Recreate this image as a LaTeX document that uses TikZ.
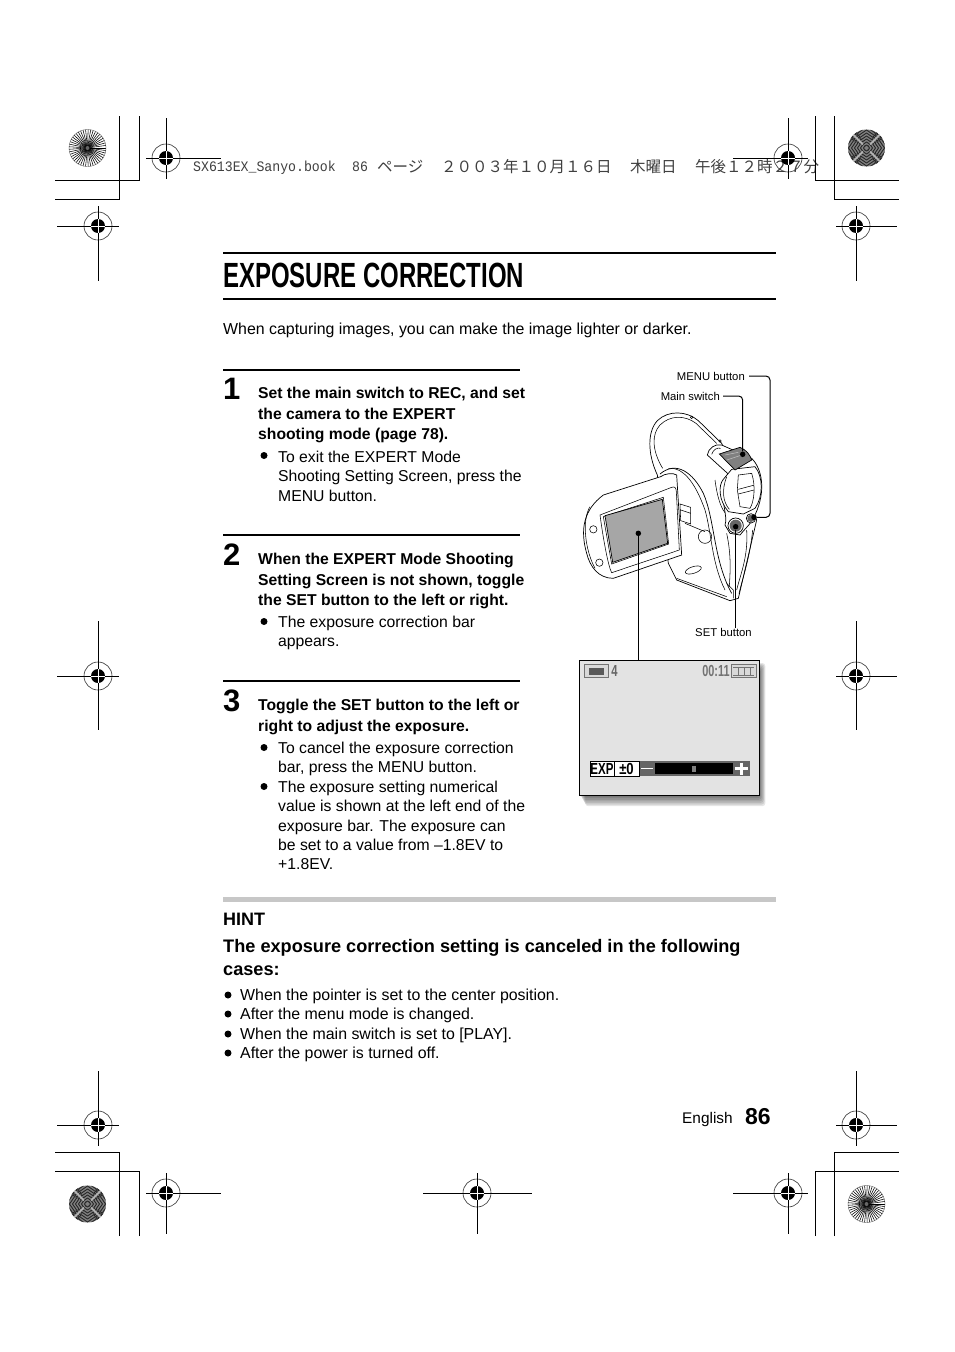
\documentclass[tikz,border=0pt]{standalone}
\usepackage{fontspec}
\setmainfont{Liberation Sans}
\setmonofont{Liberation Mono}
\newfontfamily\cjk{Noto Sans CJK JP}
\usetikzlibrary{positioning}
\tikzset{
	pagerule/.style={line width=2pt},
	cropline/.style={line width=1pt},
	bodytext/.style={inner sep=0pt,anchor=north west,align=left,font=\fontsize{15.9}{19.3}\selectfont},
	notetext/.style={inner sep=0pt,anchor=north west,align=left,font=\fontsize{15.75}{19.3}\selectfont},
	steptext/.style={inner sep=0pt,anchor=north west,align=left,font=\bfseries\fontsize{15.7}{20.5}\selectfont},
	stepnum/.style={inner sep=0pt,anchor=north west,font=\bfseries\fontsize{31}{31}\selectfont},
	bullet/.style={circle,fill=black,inner sep=0pt,minimum size=7pt},
	smalllabel/.style={inner sep=0pt,font=\fontsize{11.3}{12}\selectfont},
	headtext/.style={inner sep=0pt,anchor=base west,text=black!75},
	leader/.style={line width=1pt,rounded corners=4pt},
	pointdot/.style={circle,fill=black,inner sep=0pt,minimum size=5.5pt},
	camline/.style={line width=.7pt,fill=white},
	camthin/.style={line width=.55pt},
	camdark/.style={line width=.7pt,fill=black!50},
	monitorfont/.style={inner sep=0pt,font=\bfseries\fontsize{16}{16}\selectfont},
}
\newcommand{\narrowtext}[2]{\scalebox{#1}[1]{#2}}
\newcommand{\starmark}[2]{
	\begin{scope}[shift={(#1,#2)}]
		\foreach \a in {0,8,...,352}
			\draw[line width=.55pt] (0,0) -- (\a:18.5);
		\fill[black!60] (0,0) circle (2);
		\draw[line width=.4pt,black!60] (0,0) circle (18.5);
	\end{scope}
}
\newcommand{\moiremark}[2]{
	\begin{scope}[shift={(#1,#2)}]
		\fill[black!50] (0,0) circle (18.5);
		\clip (0,0) circle (18.5);
		\foreach \r in {0,90,180,270}
			\foreach \d in {3,6,...,27}
				\draw[rotate=\r,line width=.9pt,black!85] (\d,0) -- (\d*.45,\d*.8) (\d,0) -- (\d*.45,-\d*.8);
		\foreach \a in {45,135,225,315}
			\draw[black!30,line width=2pt] (\a:5) -- (\a:18.5);
	\end{scope}
}
\begin{document}
\begin{tikzpicture}[x=1pt,y=-1pt]
	\useasboundingbox[fill=white] (0,0) rectangle (954,1352);
	%
	\node[headtext,font=\ttfamily\fontsize{14.5}{15}\selectfont] (bookname) at (193,171.5) {\narrowtext{.91}{SX613EX\_Sanyo.book}};
	\node[headtext,font=\ttfamily\fontsize{14.5}{15}\selectfont] (bookpage) at (352,171.5) {\narrowtext{.91}{86}};
	\node[headtext,font=\cjk\fontsize{15.5}{16}\selectfont] (headpage) at (377,172) {ページ};
	\node[headtext,font=\cjk\fontsize{15.5}{16}\selectfont] (headdate) at (441,172) {２００３年１０月１６日};
	\node[headtext,font=\cjk\fontsize{15.5}{16}\selectfont] (headday) at (630,172) {木曜日};
	\node[headtext,font=\cjk\fontsize{15.5}{16}\selectfont] (headtime) at (695,172) {午後１２時２７分};
	%
	\draw[cropline] (119,116) -- (119,199) -- (55,199) (139,116) -- (139,180) -- (55,180);
	\draw[cropline] (815,116) -- (815,180) -- (899,180) (834,116) -- (834,199) -- (899,199);
	\draw[cropline] (119,1236) -- (119,1152) -- (55,1152) (139,1236) -- (139,1171) -- (55,1171);
	\draw[cropline] (815,1236) -- (815,1171) -- (899,1171) (834,1236) -- (834,1152) -- (899,1152);
	\starmark{87.5}{148}
	\moiremark{866.5}{148}
	\moiremark{87.5}{1204}
	\starmark{866.5}{1204}
	\foreach \mx/\my/\xa/\xb/\ya/\yb in {166/158/146/221/118/179,788/158/733/808/118/179,98/226/57/119/206/281,856/226/836/897/206/281,98/676/57/119/621/730,856/676/836/897/621/730,98/1125/57/119/1071/1146,856/1125/836/897/1071/1146,166/1193/146/221/1173/1234,477/1193/423/532/1173/1234,788/1193/733/808/1173/1234}{
		\draw[line width=.6pt,black!80] (\mx,\my) circle (14);
		\fill (\mx,\my) circle (7);
		\draw[cropline] (\xa,\my) -- (\xb,\my) (\mx,\ya) -- (\mx,\yb);
		\draw[white,line width=.8pt] (\mx-7,\my) -- (\mx+7,\my) (\mx,\my-7) -- (\mx,\my+7);
	}
	%
	\draw[pagerule] (223,253) -- (776,253) (223,299) -- (776,299);
	\node[inner sep=0pt,anchor=west,font=\bfseries\fontsize{35}{35}\selectfont] (title) at (223,275) {\narrowtext{.685}{EXPOSURE CORRECTION}};
	\node[bodytext] (intro) at (223,323) {When capturing images, you can make the image lighter or darker.};
	%
	\draw[pagerule] (223,370) -- (520,370) (223,535) -- (520,535) (223,681) -- (520,681);
	\node[stepnum] (num1) at (223,378) {1};
	\node[stepnum] (num2) at (223,544) {2};
	\node[stepnum] (num3) at (223,690) {3};
	\node[steptext] (step1) at (258,387) {Set the main switch to REC, and set\\the camera to the EXPERT\\shooting mode (page 78).};
	\node[notetext] (note1) at (278,451) {To exit the EXPERT Mode\\Shooting Setting Screen, press the\\MENU button.};
	\node[steptext] (step2) at (258,553) {When the EXPERT Mode Shooting\\Setting Screen is not shown, toggle\\the SET button to the left or right.};
	\node[notetext] (note2) at (278,616) {The exposure correction bar\\appears.};
	\node[steptext] (step3) at (258,699) {Toggle the SET button to the left or\\right to adjust the exposure.};
	\node[notetext] (note3) at (278,742) {To cancel the exposure correction\\bar, press the MENU button.};
	\node[notetext] (note4) at (278,781) {The exposure setting numerical\\value is shown at the left end of the\\exposure bar. The exposure can\\be set to a value from –1.8EV to\\+1.8EV.};
	\foreach \bx/\by [count=\i] in {264/455.5,264/621.5,264/747.5,264/786.5,228/995,228/1014,228/1034,228/1053}
		\node[bullet] (bullet\i) at (\bx,\by) {};
	%
	\fill[black!22] (223,897) rectangle (776,902);
	\node[inner sep=0pt,anchor=north west,font=\bfseries\fontsize{18}{18}\selectfont] (hint) at (223,913) {HINT};
	\node[inner sep=0pt,anchor=north west,align=left,font=\bfseries\fontsize{18.15}{23}\selectfont] (hinthead) at (223,939) {The exposure correction setting is canceled in the following\\cases:};
	\node[bodytext] (hint1) at (240,989) {When the pointer is set to the center position.};
	\node[bodytext] (hint2) at (240,1008) {After the menu mode is changed.};
	\node[bodytext] (hint3) at (240,1028) {When the main switch is set to [PLAY].};
	\node[bodytext] (hint4) at (240,1047) {After the power is turned off.};
	\node[inner sep=0pt,anchor=north west,font=\fontsize{15.4}{16}\selectfont] (lang) at (682,1112) {English};
	\node[inner sep=0pt,anchor=north west,font=\bfseries\fontsize{23}{23}\selectfont] (pagenum) at (745,1108) {86};
	%
	\begin{scope}[shift={(570,360)},x=1/3pt,y=-1/3pt]
		\draw[camline] (262,345) .. controls (232,280) and (232,215) .. (262,182) .. controls (295,150) and (350,152) .. (385,182) -- (455,250) -- (560,480) -- (505,715) -- (480,722) -- (320,660) -- (295,610) -- cycle;
		\draw[camthin] (278,325) .. controls (245,270) and (245,222) .. (270,195) .. controls (300,165) and (345,165) .. (378,190) -- (440,250);
		\draw[camthin] (365,172) circle (4) (450,243) circle (4);
		\draw[camline] (270,342) .. controls (320,300) and (370,340) .. (400,400) .. controls (435,480) and (430,600) .. (485,700);
		\draw[camthin] (295,325) .. controls (345,320) and (380,380) .. (405,450) .. controls (425,520) and (425,610) .. (465,690);
		\draw[camthin] (470,670) -- (490,690) -- (490,715) (320,655) -- (470,710);
		\draw[camthin] (530,510) .. controls (535,590) and (512,640) .. (500,690) (548,510) .. controls (540,590) and (522,640) .. (507,700) (470,520) .. controls (485,590) and (480,640) .. (478,680);
		\draw[camthin,rotate around={18:(370,630)}] (370,630) ellipse (25 and 10);
		\draw[camthin] (405,530) circle (20);
		\draw[camthin,fill=white] (330,432) -- (362,442) -- (362,492) -- (332,482) -- cycle (332,450) -- (362,460);
		\draw[camthin] (345,490) -- (405,515);
		\draw[camline] (272,350) .. controls (285,340) and (310,338) .. (320,345) -- (335,585) -- (130,655) .. controls (85,655) and (60,620) .. (50,580) .. controls (30,510) and (40,450) .. (100,405) -- cycle;
		\draw[camthin] (90,465) -- (305,382) .. controls (316,378) and (318,385) .. (319,395) -- (328,570) -- (125,638) .. controls (115,620) and (100,540) .. (90,465) -- cycle;
		\draw[camthin] (60,440) .. controls (35,480) and (45,570) .. (75,625);
		\draw[camthin] (100,470) -- (280,412) -- (296,552) -- (125,612) -- cycle;
		\draw[camline,fill=black!35] (105,467) -- (277,418) -- (293,550) -- (128,607) -- cycle;
		\draw[camthin] (70,508) circle (11) (88,608) circle (11);
		\draw[camline] (412,285) .. controls (415,265) and (435,250) .. (455,255) -- (545,295) .. controls (575,325) and (590,390) .. (555,465) .. controls (545,490) and (530,500) .. (510,525) -- (480,520) -- (465,495) .. controls (475,470) and (450,420) .. (462,370) -- (478,345) -- cycle;
		\draw[camthin] (425,283) .. controls (430,268) and (442,262) .. (452,265) (435,360) .. controls (440,400) and (450,440) .. (465,458);
		\draw[camline] (485,328) -- (555,320) .. controls (580,350) and (580,410) .. (555,445) -- (520,462) -- (475,455) .. controls (445,420) and (445,375) .. (460,358) -- cycle;
		\draw[camthin] (470,350) .. controls (455,390) and (458,425) .. (478,448);
		\draw[camthin] (505,345) -- (545,340) .. controls (558,380) and (552,425) .. (540,445) -- (510,440) -- (502,390) -- cycle (505,388) -- (550,376) (505,402) -- (552,390);
		\draw[camdark] (448,282) -- (510,262) .. controls (530,270) and (540,285) .. (545,300) -- (495,330) -- cycle;
		\draw[camthin,black!25] (465,285) -- (505,277) (470,300) -- (515,285);
		\draw[camline] (497,497) circle (23);
		\fill[black!60] (497,497) circle (18);
		\draw[camline] (543,475) circle (14);
		\fill[black!60] (543,475) circle (11);
		\node[pointdot] (maindot) at (518,283) {};
		\node[pointdot] (menudot) at (552,472) {};
		\node[pointdot] (setdot) at (497,500) {};
		\node[pointdot] (lcddot) at (205,520) {};
		\coordinate (menubend) at (600,472);
	\end{scope}
	\node[smalllabel,anchor=east] (menulabel) at (745,376) {MENU button};
	\node[smalllabel,anchor=east] (mainlabel) at (720,396) {Main switch};
	\node[smalllabel,anchor=center] (setlabel) at (723.5,632) {SET button};
	\draw[leader] (menulabel.east) ++(4,0) -| (menubend) -- (menudot);
	\draw[leader] (mainlabel.east) ++(3,0) -| (maindot);
	\draw[leader] (setdot) -- (setdot |- setlabel.north);
	%
	\foreach \i in {7,6,...,1}
		\fill[black,opacity=.1,rounded corners=3pt] (579+\i*.9,670-\i) rectangle (759+\i*.9,795+\i*1.6);
	\node[draw=black,line width=1pt,fill=black!11,inner sep=0pt,minimum width=180pt,minimum height=135pt] (monitor) at (669,727.5) {};
	\draw[leader] (lcddot) -- (lcddot |- monitor.north);
	\draw[black!55,line width=.8pt,fill=black!15] (584.5,664.5) rectangle (608.5,677.5);
	\fill[black!65] (589,667.5) rectangle (604,675);
	\node[monitorfont,text=black!60] (framecount) at (614.5,671) {\narrowtext{.7}{4}};
	\node[monitorfont,text=black!55] (timeleft) at (716,671) {\narrowtext{.68}{00:11}};
	\draw[black!55,line width=.8pt,fill=black!15] (731,664.5) rectangle (756,677.5);
	\draw[black!55,line width=.7pt] (733,667) -- (754,667) (733,675) -- (754,675) (738,667) -- (738,675) (744,667) -- (744,675) (750,667) -- (750,675);
	\fill[black!60] (639,761) rectangle (750,776);
	\fill[black] (655,763) rectangle (733,774);
	\fill[black!50] (692,765.5) rectangle (696,771.5);
	\node[draw=black,line width=.8pt,fill=white,inner sep=0pt,minimum width=24pt,minimum height=15pt,monitorfont] (expbox) at (602,768.5) {\narrowtext{.72}{EXP}};
	\node[draw=black,line width=.8pt,fill=white,inner sep=0pt,minimum width=25pt,minimum height=15pt,monitorfont] (expval) at (626.5,768.5) {\narrowtext{.82}{±0}};
	\draw[white,line width=1.4pt] (641,768.5) -- (653,768.5);
	\draw[white,line width=2.4pt] (735,768.5) -- (748,768.5) (741.5,762.5) -- (741.5,774.5);
\end{tikzpicture}
\end{document}
